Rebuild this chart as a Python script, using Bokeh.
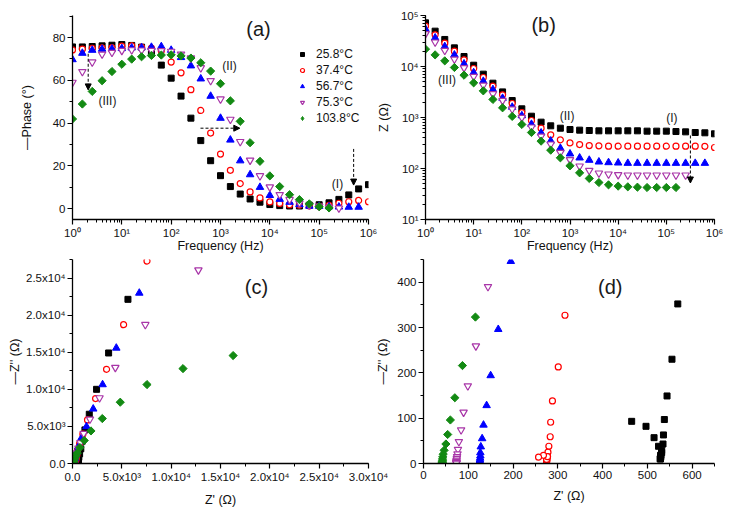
from bokeh.plotting import figure
from bokeh.layouts import column, row
from bokeh.models import (Range1d, CustomJSTickFormatter, Arrow, NormalHead, Label,
                          SingleIntervalTicker)
from bokeh.embed import file_html
from bokeh.resources import INLINE

# ---------------- data ----------------
freq = [1.0, 1.585, 2.512, 3.981, 6.310, 10.0, 15.85, 25.12, 39.81, 63.10,
        100.0, 158.5, 251.2, 398.1, 631.0, 1000.0, 1585.0, 2512.0, 3981.0, 6310.0,
        1.0e4, 1.585e4, 2.512e4, 3.981e4, 6.310e4, 1.0e5, 1.585e5, 2.512e5, 3.981e5,
        6.310e5, 1.0e6]

labels = ["25.8°C", "37.4°C", "56.7°C", "75.3°C", "103.8°C"]

phase_black = [75.6, 75.6, 75.8, 76.1, 76.4, 76.7, 76.3, 75.5, 72.5, 67.1, 61.0, 52.6, 42.3,
               31.8, 22.4, 15.4, 10.3, 6.8, 4.5, 3.0, 1.9, 1.4, 1.2, 1.2, 1.6, 1.8, 2.7, 4.3,
               6.4, 9.2, 11.2]
phase_red = [74.2, 74.6, 74.9, 75.2, 75.3, 76.0, 76.1, 75.5, 75.0, 73.8, 68.5, 63.5, 55.6,
             45.9, 35.3, 25.5, 17.9, 11.7, 7.8, 5.0, 3.1, 2.4, 1.8, 1.6, 1.3, 1.1, 1.5, 2.5,
             3.2, 3.8, 3.2]
phase_blue = [69.7, 72.7, 74.1, 74.6, 74.7, 74.9, 75.2, 75.3, 75.5, 75.8, 74.1, 70.7, 66.8,
              60.7, 52.6, 42.3, 32.1, 22.4, 15.9, 10.0, 6.2, 4.4, 3.0, 1.9, 1.2, 1.1, 0.9,
              0.8, 0.7, 0.7]
phase_purple = [59.0, 64.0, 68.5, 72.2, 73.0, 73.9, 74.2, 74.1, 73.9, 73.8, 73.5, 72.2, 70.4,
                65.8, 59.8, 51.2, 41.7, 31.3, 22.6, 15.3, 10.1, 6.5, 4.2, 2.6, 1.6, 1.1, 0.6,
                0.2]
phase_green = [41.9, 48.9, 54.8, 59.8, 64.1, 67.5, 69.9, 71.0, 71.6, 71.8, 71.9, 71.4, 70.4,
               68.2, 64.3, 58.4, 50.4, 40.8, 30.8, 22.1, 15.3, 10.3, 6.5, 4.2, 2.2, 0.9, 0.3]

z_black = [71800, 49300, 33900, 23200, 15700, 10600, 7080, 4710, 3180, 2150, 1480, 1060, 810,
           687, 617, 582, 565, 556, 548, 548, 548, 548, 548, 540, 540, 540, 531, 523, 508,
           501, 479]
z_red = [61900, 41800, 28700, 20000, 13500, 9140, 6090, 4110, 2780, 1880, 1250, 874, 617, 457,
         365, 318, 295, 282, 278, 274, 274, 274, 274, 274, 274, 274, 274, 274, 274, 272, 258]
z_blue = [53900, 36500, 24700, 16900, 11300, 7620, 5150, 3540, 2390, 1600, 1090, 740, 500, 348,
          250, 194, 162, 146, 135, 131, 129, 127, 127, 127, 127, 127, 127, 127, 127, 127]
z_purple = [43700, 30000, 20600, 13900, 9420, 6370, 4300, 2910, 2150, 1460, 1000, 646, 430,
            300, 206, 148, 111, 91.4, 81, 77.4, 75.2, 74, 74, 74, 74, 74, 74, 74]
z_green = [21900, 16900, 12900, 9560, 6760, 4780, 3330, 2260, 1550, 1050, 730, 508, 344, 229,
           162, 113, 82.2, 63.7, 53.1, 47.8, 45.1, 43.7, 43.0, 42.4, 42.4, 42.4, 42.4]

# Nyquist points (Z', -Z'') (c) and (d)
zr_black = [5620, 3660, 2440, 1700, 1260, 980, 840, 720, 640, 600, 568, 555, 544, 538, 536,
            535, 532, 530, 529, 529, 529, 530, 530, 532, 525, 515, 497, 465]
zi_black = [22130, 14900, 10000, 6640, 4530, 3000, 1980, 1300, 840, 545, 352, 230, 149, 97, 63,
            43, 29, 18, 11, 10, 10, 14, 18, 24, 38, 57, 82, 93]
zr_red = [7550, 5180, 3450, 2340, 1520, 1050, 720, 520, 455, 390, 350, 316, 301, 288, 284, 283,
          280, 278, 277, 276, 275, 275, 275, 275, 275, 275, 277, 268, 257]
zi_red = [27290, 18720, 12700, 8750, 5870, 3950, 2690, 1800, 1165, 780, 510, 327, 213, 138, 91,
          59, 38, 25, 15, 10, 7, 5, 4, 4, 6, 9, 15, 18, 14]
zr_blue = [6770, 4440, 3050, 2100, 1420, 880, 600, 400, 300, 245, 195, 167, 150, 141, 134, 131,
           128, 127, 127, 126.5, 126, 126, 125.5, 125.5, 125.5, 125.5, 125.5, 125.5]
zi_blue = [22980, 15570, 10640, 7360, 4980, 3370, 2300, 1550, 1050, 700, 446, 296, 194, 128, 85,
           55, 37, 24, 17, 12, 8, 5, 3, 2, 1.5, 1.5, 1.5, 1.5]
zr_purple = [12760, 7380, 4340, 2740, 1770, 1130, 800, 600, 410, 280, 200, 144, 117, 99, 89.5,
             84, 79, 77, 76, 75, 74.5, 74, 73.5, 73.5, 73.5, 73.5, 73.5]
zi_purple = [26080, 18720, 12930, 8840, 5970, 4040, 2800, 2060, 1400, 960, 610, 390, 259, 171,
             113, 74, 48, 31, 21, 15, 11, 7, 4.5, 2.5, 1.5, 0.8, 0.5]
zr_green = [16280, 11200, 7550, 4840, 3020, 1870, 1190, 750, 480, 330, 227, 160, 116, 87, 70,
            60, 54, 50, 46, 44, 43, 42.5, 42.5, 42, 42, 42, 42]
zi_green = [14550, 12790, 10640, 8260, 6060, 4390, 3100, 2150, 1400, 1000, 694, 480, 323, 216,
            145, 96, 64, 43, 29, 20.5, 14.5, 10, 6.5, 4, 2.5, 1, 0.5]

# ---------------- styles ----------------
FONT = "Liberation Sans"
GREEN = "#138a13"
styles = [
    dict(marker="square", size=6, fill_color="black", line_color="black"),
    dict(marker="circle", size=6, fill_color="white", line_color="#ff0000", line_width=1.2),
    dict(marker="triangle", size=7.5, fill_color="#0000ff", line_color="#0000ff"),
    dict(marker="inverted_triangle", size=7.5, fill_color="white", line_color="#a835a8",
         line_width=1.2),
    dict(marker="square", angle=0.785398, size=5.8, fill_color=GREEN, line_color=GREEN),
]
legend_styles = styles[:4] + [dict(marker="diamond", size=10, fill_color=GREEN,
                                   line_color=GREEN)]

SUP = ('const sup = {"0":"\\u2070","1":"\\u00b9","2":"\\u00b2","3":"\\u00b3","4":"\\u2074",'
       '"5":"\\u2075","6":"\\u2076","7":"\\u2077","8":"\\u2078","9":"\\u2079","-":"\\u207b"};')
log_fmt = CustomJSTickFormatter(code=SUP + """
const e = Math.round(Math.log10(tick));
return "10" + String(e).split("").map(c => sup[c]).join("");
""")
sci_fmt = CustomJSTickFormatter(code=SUP + """
if (Math.abs(tick) < 1e-9) { return "0.0"; }
const e = Math.floor(Math.log10(tick) + 1e-9);
const m = tick / Math.pow(10, e);
return m.toFixed(1) + "x10" + String(e).split("").map(c => sup[c]).join("");
""")


def style(p, xstand, ystand):
    p.outline_line_color = None
    p.xgrid.visible = False
    p.ygrid.visible = False
    for ax in p.axis:
        ax.axis_line_width = 1.3
        ax.axis_line_color = "black"
        ax.major_tick_line_color = "black"
        ax.minor_tick_line_color = "black"
        ax.major_tick_line_width = 1.2
        ax.minor_tick_line_width = 1.0
        ax.major_tick_out = 5
        ax.major_tick_in = 0
        ax.minor_tick_out = 3
        ax.minor_tick_in = 0
        ax.major_label_text_font = FONT
        ax.major_label_text_font_size = "11.5px"
        ax.major_label_text_color = "#111111"
        ax.major_label_standoff = 2
        ax.axis_label_text_font = FONT
        ax.axis_label_text_font_size = "12.5px"
        ax.axis_label_text_color = "#111111"
        ax.axis_label_text_font_style = "normal"
    p.xaxis.axis_label_standoff = xstand
    p.yaxis.axis_label_standoff = ystand


def note(p, x, y, t, size="12px"):
    p.add_layout(Label(x=x, y=y, text=t, text_align="center", text_baseline="middle",
                       text_font=FONT, text_font_size=size, text_color="#1a1a1a"))


def arrow(p, x0, y0, x1, y1):
    p.add_layout(Arrow(end=NormalHead(size=6, fill_color="black", line_color="black",
                                      line_width=1),
                       x_start=x0, y_start=y0, x_end=x1, y_end=y1,
                       line_dash="3 2", line_width=1, line_color="black"))


common = dict(output_backend="svg", toolbar_location=None)

# ---------------- (a) phase ----------------
pa = figure(width=395, height=257, x_axis_type="log", x_range=Range1d(1, 1e6),
            y_range=Range1d(-5.1, 90.3), min_border_left=72, min_border_right=27,
            min_border_top=15, min_border_bottom=38, **common)
phases = [phase_black, phase_red, phase_blue, phase_purple, phase_green]
for ph, st in zip(phases, styles):
    pa.scatter(freq[:len(ph)], ph, **st)
# legend entries: glyph samples placed outside the visible range
for st, lb in zip(legend_styles, labels):
    pa.scatter([1e-3], [-1000], legend_label=lb, **st)
pa.yaxis.ticker = SingleIntervalTicker(interval=20, num_minor_ticks=2)
pa.xaxis.formatter = log_fmt
pa.xaxis.axis_label = "Frequency (Hz)"
pa.yaxis.axis_label = "\u2014Phase (\u00b0)"
style(pa, -3, 16)
lg = pa.legend[0]
lg.location = (225, 94)
lg.border_line_color = None
lg.background_fill_alpha = 0
lg.padding = 0
lg.margin = 0
lg.spacing = 2
lg.glyph_width = 10
lg.glyph_height = 12
lg.label_height = 12
lg.label_standoff = 9
lg.label_text_font = FONT
lg.label_text_font_size = "12px"
lg.label_text_color = "#111111"
note(pa, 5900, 84.2, "(a)", "20px")
note(pa, 5.1, 50.5, "(III)")
note(pa, 1520, 66.9, "(II)")
note(pa, 2.35e5, 11.7, "(I)")
arrow(pa, 2.08, 72.4, 2.08, 55.5)
arrow(pa, 393, 37.6, 2460, 37.6)
arrow(pa, 5.0e5, 27.9, 5.0e5, 11.0)

# ---------------- (b) |Z| ----------------
pb = figure(width=358, height=257, x_axis_type="log", y_axis_type="log",
            x_range=Range1d(1, 1e6), y_range=Range1d(10, 1e5), min_border_left=45,
            min_border_right=17, min_border_top=15, min_border_bottom=38,
            border_fill_alpha=0, **common)
pb.margin = (0, 0, 0, -22)
zs = [z_black, z_red, z_blue, z_purple, z_green]
for zz, st in zip(zs, styles):
    pb.scatter(freq[:len(zz)], zz, **st)
pb.xaxis.formatter = log_fmt
pb.yaxis.formatter = log_fmt
pb.xaxis.axis_label = "Frequency (Hz)"
pb.yaxis.axis_label = "Z (\u03a9)"
style(pb, -3, 7)
note(pb, 284, 63700, "(b)", "20px")
note(pb, 2.8, 5370, "(III)")
note(pb, 870, 1050, "(II)")
note(pb, 1.3e5, 960, "(I)")
arrow(pb, 3.16e5, 444, 3.16e5, 52)

# ---------------- (c) Nyquist ----------------
zrs = [zr_black, zr_red, zr_blue, zr_purple, zr_green]
zis = [zi_black, zi_red, zi_blue, zi_purple, zi_green]

pc = figure(width=395, height=258, x_range=Range1d(0, 30000), y_range=Range1d(0, 27500),
            min_border_left=72, min_border_right=27, min_border_top=2, min_border_bottom=52,
            **common)
for xr, yi, st in zip(zrs, zis, styles):
    pc.scatter(xr, yi, **st)
pc.xaxis.ticker = SingleIntervalTicker(interval=5000, num_minor_ticks=2)
pc.yaxis.ticker = SingleIntervalTicker(interval=5000, num_minor_ticks=2)
pc.xaxis.formatter = sci_fmt
pc.yaxis.formatter = sci_fmt
pc.xaxis.axis_label = "Z' (\u03a9)"
pc.yaxis.axis_label = "\u2014Z'' (\u03a9)"
style(pc, 7, 1)
note(pc, 18650, 23740, "(c)", "20px")

# ---------------- (d) Nyquist zoom ----------------
pd_ = figure(width=358, height=258, x_range=Range1d(0, 650), y_range=Range1d(0, 450),
             min_border_left=45, min_border_right=17, min_border_top=2, min_border_bottom=52,
             border_fill_alpha=0, **common)
pd_.margin = (0, 0, 0, -22)
for xr, yi, st in zip(zrs, zis, styles):
    pd_.scatter(xr, yi, **st)
pd_.xaxis.ticker = SingleIntervalTicker(interval=100, num_minor_ticks=2)
pd_.yaxis.ticker = SingleIntervalTicker(interval=100, num_minor_ticks=2)
pd_.xaxis.axis_label = "Z' (\u03a9)"
pd_.yaxis.axis_label = "\u2014Z'' (\u03a9)"
style(pd_, 7, 4)
note(pd_, 417, 389, "(d)", "20px")

layout = column(row(pa, pb), row(pc, pd_))
open("out.html", "w").write(file_html(layout, INLINE))
